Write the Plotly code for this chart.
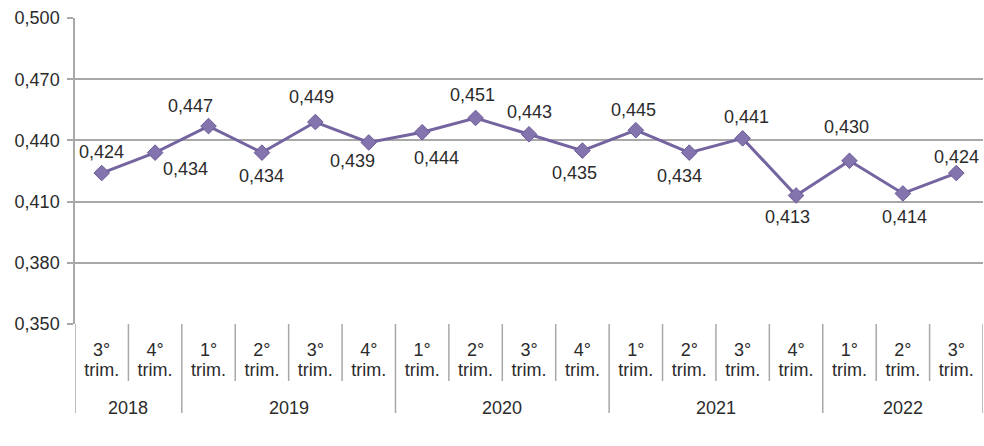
import plotly.graph_objects as go

years = ["2018", "2018", "2019", "2019", "2019", "2019", "2020", "2020", "2020", "2020",
         "2021", "2021", "2021", "2021", "2022", "2022", "2022"]
quarters = ["3°", "4°", "1°", "2°", "3°", "4°", "1°", "2°", "3°", "4°",
            "1°", "2°", "3°", "4°", "1°", "2°", "3°"]
values = [0.424, 0.434, 0.447, 0.434, 0.449, 0.439, 0.444, 0.451, 0.443, 0.435,
          0.445, 0.434, 0.441, 0.413, 0.430, 0.414, 0.424]
y_ticks = [0.350, 0.380, 0.410, 0.440, 0.470, 0.500]

# data-label placement (pixel offsets from each marker, as in the reference)
label_dx = [0, 30, -18, 0, -4, -16, 14, -3, 0, -8, -2, -10, 4, -9, -3, 2, 0]
label_dy = [21, -16, 20, -23, 25, -19, -26, 23, 22, -22, 20, -23, 21, -22, 34, -24, 16]

FONT = "Liberation Sans, Arial, sans-serif"
TXT = "#2b2b2b"
GRID = "#a8a8a8"
LINE = "#7464a0"
MARK = "#8474ae"

n = len(values)
xs = list(range(n))
texts = [f"{v:.3f}".replace(".", ",") for v in values]
ticktext = [f"<span style='font-size:18px'>{q}</span><br><span style='font-size:18px'>trim.</span>"
            for q in quarters]

fig = go.Figure()
fig.add_trace(go.Scatter(
    x=xs, y=values, mode="lines+markers",
    line=dict(color=LINE, width=3),
    marker=dict(symbol="diamond", size=12, color=MARK, line=dict(color="#6a5a96", width=1)),
    cliponaxis=False,
    hoverinfo="skip",
))

plot_h = 446 - 18 - 122
shapes = []
year_bounds = [-0.5] + [i + 0.5 for i in range(n - 1) if years[i] != years[i + 1]] + [n - 0.5]
for i in range(-1, n):
    b = i + 0.5
    long = b in year_bounds
    shapes.append(dict(type="line", xref="x", yref="paper", x0=b, x1=b,
                       y0=0, y1=-(89 if long else 57) / plot_h,
                       line=dict(color=GRID, width=1.5)))

annotations = []
for x, v, t, dx, dy in zip(xs, values, texts, label_dx, label_dy):
    annotations.append(dict(x=x, y=v, xref="x", yref="y", text=t, showarrow=False,
                            xshift=dx, yshift=dy, xanchor="center", yanchor="middle",
                            font=dict(family=FONT, size=18, color=TXT)))

uniq = []
for y in years:
    if y not in uniq:
        uniq.append(y)
for yr in uniq:
    idx = [i for i, y in enumerate(years) if y == yr]
    c = (idx[0] + idx[-1]) / 2
    annotations.append(dict(x=c, xref="x", y=-84 / plot_h, yref="paper", text=yr,
                            showarrow=False, font=dict(family=FONT, size=18, color=TXT),
                            xanchor="center", yanchor="middle"))

fig.update_layout(
    width=984, height=446,
    margin=dict(l=75, r=1, t=18, b=122, autoexpand=False),
    paper_bgcolor="white", plot_bgcolor="white",
    separators=",.",
    showlegend=False,
    shapes=shapes,
    annotations=annotations,
    font=dict(family=FONT, size=18, color=TXT),
    xaxis=dict(range=[-0.5, n - 0.5], tickvals=xs, ticktext=ticktext, showgrid=False,
               zeroline=False, showline=False, ticks="", automargin=False,
               ticklabelstandoff=16,
               tickfont=dict(family=FONT, size=15.4, color=TXT)),
    yaxis=dict(range=[0.35, 0.50], tickvals=y_ticks, tickformat=".3f", showgrid=True,
               gridcolor=GRID, gridwidth=1.5, zeroline=False, showline=True, linecolor=GRID,
               linewidth=1.5, ticks="outside", ticklen=6, tickcolor=GRID, tickwidth=1.5,
               ticklabelstandoff=4, automargin=False,
               tickfont=dict(family=FONT, size=18, color=TXT)),
)

fig.write_html("out.html", config={"displayModeBar": False},
               post_script="document.body.style.margin='0';document.body.style.padding='0';")
